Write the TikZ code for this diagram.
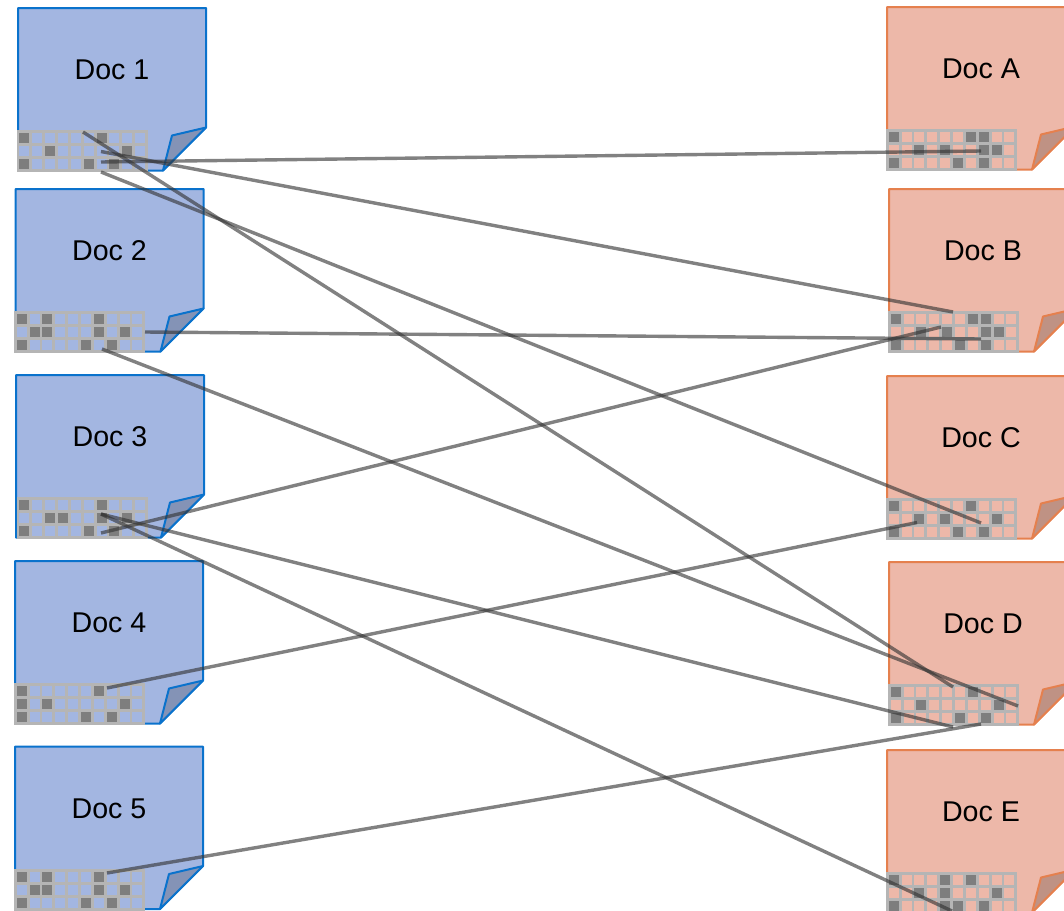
\documentclass[tikz,border=0pt]{standalone}
\usepackage{fontspec}
\setmainfont{Liberation Sans}
\definecolor{bluefill}{HTML}{A3B6E1}
\definecolor{blueline}{HTML}{0A72CC}
\definecolor{bluefold}{HTML}{8493B6}
\definecolor{redfill}{HTML}{EDB8A9}
\definecolor{redline}{HTML}{E5804E}
\definecolor{redfold}{HTML}{BF9284}
\definecolor{gridgrey}{HTML}{B5B5B5}
\definecolor{celldark}{HTML}{7E7E7E}
\tikzset{
  bluedoc/.style={fill=bluefill,draw=blueline,line width=2pt,line join=round},
  bluecurl/.style={fill=bluefold,draw=blueline,line width=2pt,line join=round},
  bluecell/.style={fill=bluefill,draw=none},
  reddoc/.style={fill=redfill,draw=redline,line width=2pt,line join=round},
  redcurl/.style={fill=redfold,draw=redline,line width=2pt,line join=round},
  redcell/.style={fill=redfill,draw=none},
  gridback/.style={fill=gridgrey,draw=none},
  darkcell/.style={fill=celldark,draw=none},
  doclabel/.style={font=\fontsize{28.6}{33}\selectfont,text=black,inner sep=0pt},
  link/.style={draw=black!80,opacity=.62,line width=3.4pt}
}
% #1 name, #2 x, #3 y, #4 style prefix, #5 label, #6 dark cells, #7 grid dx
\newcommand{\docsheet}[7]{%
  \begin{scope}[shift={(#2,#3)}]
    \path[#4doc] (0,0) -- (188,0) -- (188,119.5) -- (145,162.5) -- (0,162.5) -- cycle;
    \path[#4curl] (188,119.5) -- (154,127.5) -- (145,162.5) -- cycle;
    \node[doclabel] (#1) at (94,61.8) {#5};
    \begin{scope}[shift={(#7,123.6)}]
      \path[gridback] (-1.4,-1.4) rectangle (130,40.4);
      \foreach \cx in {0,...,9} \foreach \cy in {0,1,2}
        \path[#4cell] (\cx*12.85+1.4,\cy*13+1.4) rectangle (\cx*12.85+11.45,\cy*13+11.6);
      \foreach \cx/\cy in {#6}
        \path[darkcell] (\cx*12.85+1.4,\cy*13+1.4) rectangle (\cx*12.85+11.45,\cy*13+11.6);
    \end{scope}
  \end{scope}}
\begin{document}
\begin{tikzpicture}[x=1pt,y=-1pt]
\useasboundingbox (0,0) rectangle (1064,910);
\clip (0,0) rectangle (1064,910);
\docsheet{d1}{18}{8}{blue}{Doc 1}{0/0,6/0,2/1,8/1,0/2,5/2,7/2}{0}
\docsheet{d2}{15.5}{189}{blue}{Doc 2}{0/0,2/0,6/0,1/1,2/1,6/1,8/1,0/2,5/2,7/2}{-0.2}
\docsheet{d3}{16}{375}{blue}{Doc 3}{0/0,6/0,2/1,3/1,6/1,8/1,0/2,5/2,7/2}{2}
\docsheet{d4}{15}{561}{blue}{Doc 4}{0/0,6/0,0/1,2/1,8/1,0/2,5/2,7/2}{0.3}
\docsheet{d5}{15}{746.5}{blue}{Doc 5}{0/0,2/0,6/0,1/1,2/1,6/1,8/1,0/2,5/2,7/2}{0.3}
\docsheet{da}{887}{7}{red}{Doc A}{0/0,6/0,7/0,2/1,4/1,7/1,8/1,0/2,5/2,7/2}{0.3}
\docsheet{db}{889}{189}{red}{Doc B}{0/0,6/0,7/0,2/1,4/1,7/1,8/1,0/2,5/2,7/2}{0.3}
\docsheet{dc}{887}{376}{red}{Doc C}{0/0,6/0,2/1,4/1,8/1,0/2,5/2,7/2}{0.3}
\docsheet{dd}{889}{562}{red}{Doc D}{0/0,6/0,2/1,8/1,0/2,5/2,7/2}{0.3}
\docsheet{de}{887}{750}{red}{Doc E}{0/0,4/0,6/0,2/1,4/1,8/1,0/2,4/2,5/2,7/2}{0.3}
% connector ends
\coordinate (s1a) at (101,162);  \coordinate (ta1) at (981,151);
\coordinate (s1b) at (101,151.5);\coordinate (tb1) at (953,312);
\coordinate (s1c) at (101,172);  \coordinate (tc1) at (981,523);
\coordinate (s1d) at (83,132);   \coordinate (td1) at (953,687);
\coordinate (s2b) at (145,332);  \coordinate (tb2) at (981,339);
\coordinate (s2d) at (102,349);  \coordinate (td2) at (1018,706);
\coordinate (s3b) at (101,533);  \coordinate (tb3) at (941,327);
\coordinate (s3d) at (101,514);  \coordinate (td3) at (953,727);
\coordinate (s3e) at (101,514);  \coordinate (te3) at (952,911);
\coordinate (s4c) at (107,688);  \coordinate (tc4) at (917,522.5);
\coordinate (s5d) at (107,873);  \coordinate (td5) at (981,724);
\foreach \p/\q in {s1a/ta1,s1b/tb1,s1c/tc1,s1d/td1,s2b/tb2,s2d/td2,s3b/tb3,s3d/td3,s3e/te3,s4c/tc4,s5d/td5}
  \draw[link] (\p) -- (\q);
\end{tikzpicture}
\end{document}
